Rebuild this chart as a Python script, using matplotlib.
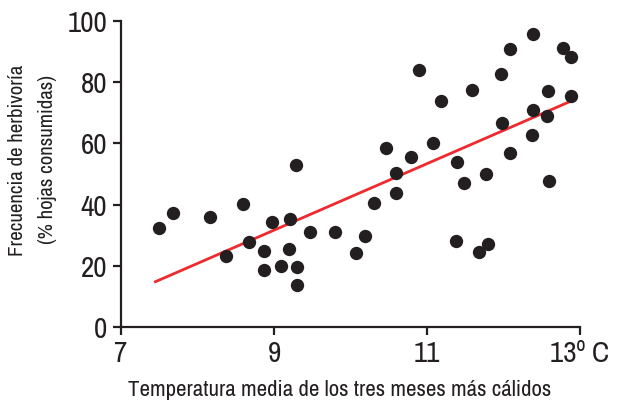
import matplotlib
matplotlib.use("Agg")
import matplotlib.pyplot as plt
from matplotlib import font_manager
import numpy as np

temperature = [7.50, 7.68, 8.16, 8.37, 8.59, 8.67, 8.87, 8.87, 8.97, 9.09, 9.20, 9.21,
               9.30, 9.30, 9.29, 9.47, 9.80, 10.07, 10.19, 10.31, 10.47, 10.59, 10.59,
               10.79, 10.90, 11.08, 11.18, 11.38, 11.39, 11.48, 11.59, 11.68, 11.77,
               11.80, 11.97, 11.98, 12.08, 12.08, 12.39, 12.39, 12.37, 12.57, 12.58,
               12.59, 12.78, 12.88, 12.88]
herbivory = [32.4, 37.3, 36.0, 23.2, 40.2, 27.8, 24.8, 18.6, 34.3, 19.9, 25.5, 35.3,
             19.6, 13.7, 52.9, 31.0, 31.0, 24.2, 29.7, 40.5, 58.5, 50.3, 43.8,
             55.6, 84.0, 60.1, 73.9, 28.1, 53.9, 47.1, 77.5, 24.5, 50.0,
             27.1, 82.7, 66.7, 56.9, 90.8, 95.8, 70.9, 62.7, 69.0, 77.1,
             47.7, 91.2, 88.2, 75.5]
fit_x = [7.45, 12.88]
fit_y = [14.8, 73.8]
x_ticks = [7, 9, 11, 13]
x_tick_labels = ["7", "9", "11", "13º C"]
y_ticks = [0, 20, 40, 60, 80, 100]

cond = [f for f in font_manager.fontManager.ttflist
        if ('condensed' in str(f.stretch) or 'Narrow' in f.name or 'Condensed' in f.name
            or (isinstance(f.stretch, int) and f.stretch < 500))]
if any('Narrow' in f.name for f in cond):
    fam = [f.name for f in cond if 'Narrow' in f.name][0]
    plt.rcParams['font.family'] = [fam, 'DejaVu Sans']
elif cond:
    plt.rcParams['font.family'] = [cond[0].name, 'DejaVu Sans']
    plt.rcParams['font.stretch'] = 'condensed'
else:
    plt.rcParams['font.family'] = ['DejaVu Sans']

W, H = 621, 409
fig = plt.figure(figsize=(W/100, H/100), dpi=100)
ax = fig.add_axes([121/W, (H-327)/H, (580-121)/W, (327-21)/H])

ax.scatter(temperature, herbivory, s=92, color="#231f20", zorder=3, linewidths=0)
ax.plot(fit_x, fit_y, color="#ee2a2f", lw=2.0, zorder=2)

ax.set_xlim(7, 13)
ax.set_ylim(0, 100)
ax.set_xticks(x_ticks)
ax.set_xticklabels(x_tick_labels)
ax.set_yticks(y_ticks)
for s in ["top", "right"]:
    ax.spines[s].set_visible(False)
for s in ["left", "bottom"]:
    ax.spines[s].set_linewidth(1.6)
    ax.spines[s].set_color("#231f20")
ax.tick_params(axis="both", length=6, width=1.6, color="#231f20",
               labelsize=21, labelcolor="#231f20")
ax.tick_params(axis="x", pad=3)
ax.tick_params(axis="y", pad=4)

fig.text(340/W, 1 - 390/H, "Temperatura media de los tres meses más cálidos",
         fontsize=16.5, color="#231f20", ha="center", va="center")
fig.text(18/W, 1 - 160/H, "Frecuencia de herbivoría", rotation=90, fontsize=15,
         color="#231f20", ha="center", va="center")
fig.text(48/W, 1 - 160/H, "(% hojas consumidas)", rotation=90, fontsize=15,
         color="#231f20", ha="center", va="center")

fig.savefig("out.png", dpi=100)
